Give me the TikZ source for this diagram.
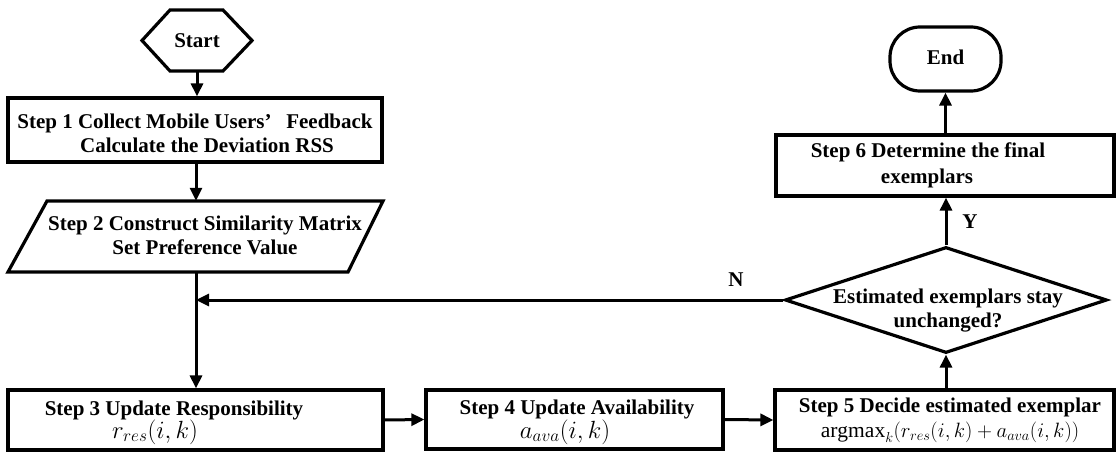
\documentclass[tikz,border=0pt]{standalone}
\usepackage{fontspec}
\setmainfont{Liberation Serif}
\usetikzlibrary{arrows.meta,shapes.geometric,calc}
\newcommand\fs{\fontsize{21}{25}\selectfont\bfseries}
\newcommand\mfs{\fontsize{23.5}{25}\selectfont}
\newcommand\mfsb{\fontsize{21.5}{25}\selectfont}
\begin{document}
\begin{tikzpicture}[x=1pt,y=-1pt,
  box/.style={draw,line width=3.2pt,inner sep=0pt},
  ghost/.style={inner sep=0pt},
  txt/.style={anchor=base,inner sep=0pt,font=\fs},
  mtxt/.style={anchor=base,inner sep=0pt,font=\mfs},
  arr/.style={line width=3pt,-{Triangle[length=13pt,width=12pt]}}]
\useasboundingbox (0,0) rectangle (1116,452);
% Start hexagon
\draw[line width=3.2pt,line join=miter] (142,40.5) -- (170,10) -- (223,10) -- (252,40.5) -- (223,71) -- (170,71) -- cycle;
\node[ghost,minimum width=110,minimum height=61] (st) at (197,40.5) {};
\node[txt] (stt) at (197,48) {Start};
% Step 1
\node[box,minimum width=374,minimum height=64] (s1) at (195,130) {};
\node[txt] (s1a) at (195,128) {Step 1 Collect Mobile Users’\hspace{0.45em} Feedback};
\node[txt] (s1b) at (207,152) {Calculate the Deviation RSS};
% Step 2 parallelogram
\draw[line width=3.2pt,line join=miter] (47,201) -- (383,201) -- (348,272) -- (8,272) -- cycle;
\node[ghost,minimum width=300,minimum height=71] (s2) at (196,236.5) {};
\node[txt] (s2a) at (205,230) {Step 2 Construct Similarity Matrix};
\node[txt] (s2b) at (205,254) {Set Preference Value};
% Step 3
\node[box,minimum width=375,minimum height=60] (s3) at (195.5,420) {};
\node[txt] (s3a) at (174,415) {Step 3 Update Responsibility};
\node[mtxt] (s3b) at (155,438) {$r_{res}(i,k)$};
% Step 4
\node[box,minimum width=297,minimum height=59] (s4) at (574.5,419.5) {};
\node[txt] (s4a) at (577,414) {Step 4 Update Availability};
\node[mtxt] (s4b) at (565,438) {$a_{ava}(i,k)$};
% Step 5
\node[box,minimum width=339,minimum height=60] (s5) at (944.5,420) {};
\node[txt] (s5a) at (950,412) {Step 5 Decide estimated exemplar};
\node[anchor=base,inner sep=0pt,font=\mfsb] (s5b) at (950,437) {$\mathrm{argmax}_k(r_{res}(i,k)+a_{ava}(i,k))$};
% Decision
\node[draw,diamond,line width=3.2pt,inner sep=0pt,minimum width=322,minimum height=106] (d) at (946,300) {};
\node[txt] (da) at (948,303) {Estimated exemplars stay};
\node[txt] (db) at (948,327) {unchanged?};
% Step 6
\node[box,minimum width=338,minimum height=61] (s6) at (945,165.5) {};
\node[txt] (s6a) at (928,157) {Step 6 Determine the final};
\node[txt] (s6b) at (927,183) {exemplars};
% End
\node[draw,line width=3.2pt,rounded corners=30pt,minimum width=111,minimum height=64,inner sep=0pt] (en) at (945.5,59) {};
\node[txt] (ent) at (945.5,65) {End};
% Labels
\node[font=\fs,inner sep=0pt] (ylab) at (970,222) {Y};
\node[font=\fs,inner sep=0pt] (nlab) at (736,280) {N};
% Connectors
\draw[arr] (st.south) -- (st.south |- s1.north);
\draw[arr] (s1.south -| s2.north) -- (s2.north);
\draw[arr] (s2.south) -- (s2.south |- s3.north);
\draw[arr] (d.west) -- (d.west -| s2.south);
\draw[arr] (s3.east) -- (s4.west);
\draw[arr] (s4.east) -- (s5.west);
\draw[arr] (s5.north -| d.south) -- (d.south);
\draw[arr] (d.north) -- (d.north |- s6.south);
\draw[arr] (s6.north -| en.south) -- (en.south);
\end{tikzpicture}
\end{document}
